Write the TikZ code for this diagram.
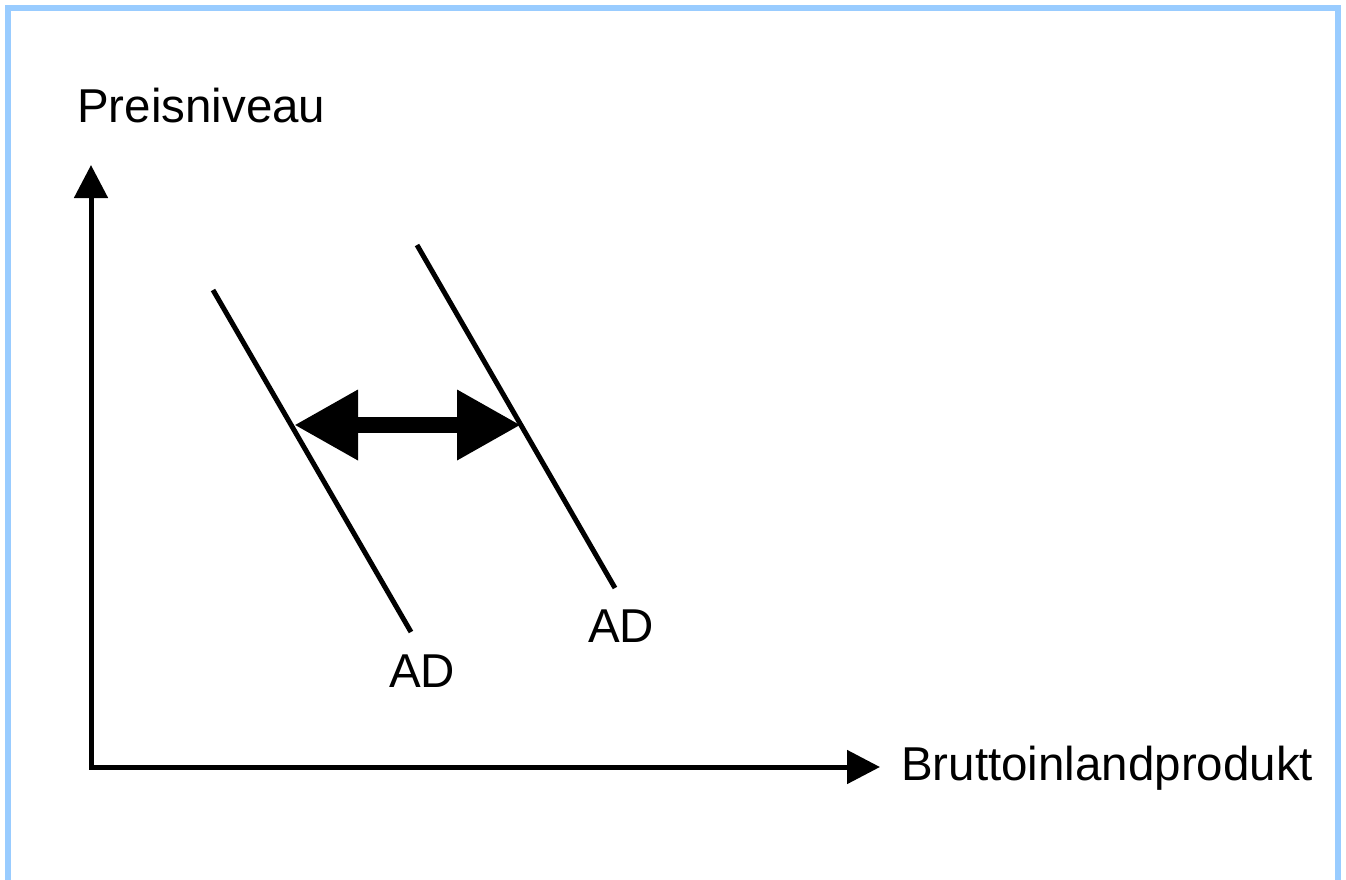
\documentclass[tikz,border=0pt]{standalone}
\usepackage{fontspec}
\setmainfont{Liberation Sans}
\usetikzlibrary{arrows.meta}
\definecolor{frameblue}{HTML}{99CCFF}
\begin{document}
\begin{tikzpicture}[x=1pt,y=-1pt,
  lbl/.style={inner sep=0pt,font=\fontsize{47.5}{57}\selectfont},
  axis/.style={line width=5pt,-{Triangle[length=33pt,width=33pt]}},
  curve/.style={line width=5pt},
  shift arrow/.style={line width=16pt,{Triangle[length=64pt,width=66pt]}-{Triangle[length=64pt,width=66pt]}}]
\useasboundingbox (0,0) rectangle (1346,879);
\draw[frameblue,line width=6pt] (8,885) -- (8,8) -- (1338,8) -- (1338,885);
% axes
\coordinate (O) at (91,767);
\coordinate (ytop) at (91,165);
\coordinate (xend) at (880,767);
\draw[axis,line cap=butt] (O) -- (ytop);
\draw[axis] (O) -- (xend);
\draw[line width=5pt] (91,769.5) -- (91,764.5);
\node[lbl,anchor=base west] (ylab) at (77,122) {Preisniveau};
\node[lbl,anchor=base west] (xlab) at (901,780) {Bruttoinlandprodukt};
% demand curves
\coordinate (a1) at (213,290);
\coordinate (a2) at (411,632);
\coordinate (b1) at (417,245);
\coordinate (b2) at (615,588);
\draw[curve] (a1) -- (a2);
\draw[curve] (b1) -- (b2);
\node[lbl,anchor=base] (ad1) at (422,687) {AD};
\node[lbl,anchor=base] (ad2) at (621,642) {AD};
% shift arrow
\coordinate (s1) at (294,425);
\coordinate (s2) at (521,425);
\draw[shift arrow] (s1) -- (s2);
\end{tikzpicture}
\end{document}
